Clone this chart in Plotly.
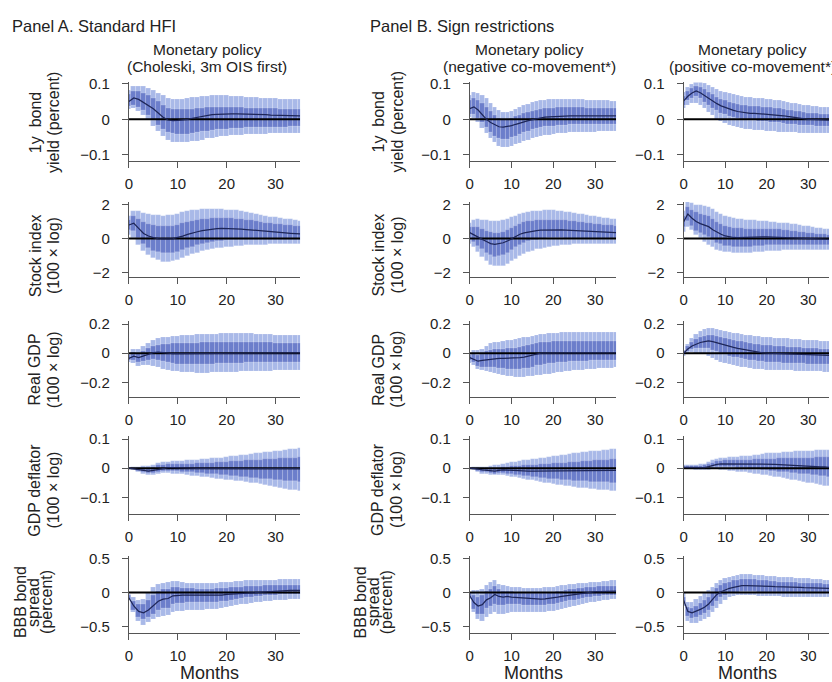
import plotly.graph_objects as go

# ---------------------------------------------------------------------------
# Impulse responses to a monetary policy shock, horizons 0..35 months.
# For each panel: median response, 90% band (lo90/hi90), 68% band (lo68/hi68)
# ---------------------------------------------------------------------------
months = list(range(36))

# --- 1y bond yield (percent) -------------------------------------------------
yield_chol_mid = [0.050,0.060,0.056,0.048,0.040,0.030,0.018,0.006,-0.002,-0.004,-0.003,-0.002,0.000,0.003,0.006,0.009,0.011,0.013,0.014,0.015,0.015,0.015,0.015,0.015,0.015,0.014,0.014,0.013,0.013,0.012,0.012,0.011,0.011,0.010,0.010,0.010]
yield_chol_hi90 = [0.082,0.092,0.093,0.092,0.088,0.082,0.074,0.066,0.059,0.056,0.056,0.057,0.059,0.061,0.063,0.064,0.065,0.066,0.066,0.066,0.066,0.065,0.065,0.064,0.063,0.062,0.061,0.060,0.059,0.058,0.058,0.057,0.056,0.056,0.055,0.055]
yield_chol_lo90 = [0.028,0.030,0.022,0.010,-0.004,-0.020,-0.035,-0.048,-0.058,-0.064,-0.066,-0.066,-0.065,-0.063,-0.061,-0.058,-0.055,-0.053,-0.051,-0.049,-0.047,-0.046,-0.045,-0.044,-0.043,-0.043,-0.042,-0.042,-0.042,-0.041,-0.041,-0.041,-0.040,-0.040,-0.040,-0.040]
yield_chol_hi68 = [0.070,0.078,0.078,0.074,0.068,0.060,0.050,0.040,0.032,0.028,0.027,0.027,0.028,0.029,0.031,0.032,0.033,0.034,0.034,0.034,0.034,0.034,0.033,0.033,0.032,0.032,0.031,0.031,0.030,0.030,0.030,0.029,0.029,0.029,0.028,0.028]
yield_chol_lo68 = [0.036,0.040,0.034,0.024,0.012,-0.002,-0.016,-0.028,-0.036,-0.041,-0.043,-0.043,-0.042,-0.040,-0.038,-0.035,-0.033,-0.031,-0.029,-0.028,-0.027,-0.026,-0.025,-0.025,-0.024,-0.024,-0.023,-0.023,-0.023,-0.022,-0.022,-0.022,-0.022,-0.021,-0.021,-0.021]

yield_neg_mid = [0.030,0.035,0.026,0.012,0.000,-0.009,-0.016,-0.021,-0.022,-0.021,-0.018,-0.014,-0.010,-0.007,-0.004,-0.001,0.002,0.004,0.006,0.007,0.008,0.009,0.009,0.010,0.010,0.010,0.010,0.010,0.010,0.010,0.010,0.010,0.010,0.010,0.010,0.010]
yield_neg_hi90 = [0.068,0.075,0.074,0.068,0.058,0.046,0.034,0.024,0.019,0.019,0.022,0.027,0.033,0.038,0.043,0.047,0.050,0.053,0.054,0.055,0.056,0.056,0.056,0.056,0.056,0.055,0.055,0.055,0.054,0.054,0.053,0.053,0.052,0.052,0.051,0.051]
yield_neg_lo90 = [0.005,0.002,-0.010,-0.025,-0.040,-0.054,-0.066,-0.075,-0.080,-0.080,-0.077,-0.072,-0.067,-0.062,-0.058,-0.054,-0.051,-0.048,-0.046,-0.044,-0.042,-0.041,-0.040,-0.039,-0.038,-0.038,-0.037,-0.037,-0.036,-0.036,-0.036,-0.035,-0.035,-0.035,-0.035,-0.035]
yield_neg_hi68 = [0.052,0.058,0.054,0.044,0.033,0.022,0.012,0.004,0.000,0.000,0.003,0.007,0.012,0.016,0.020,0.023,0.026,0.028,0.030,0.031,0.032,0.033,0.033,0.033,0.033,0.033,0.033,0.033,0.032,0.032,0.032,0.032,0.031,0.031,0.031,0.031]
yield_neg_lo68 = [0.013,0.014,0.004,-0.010,-0.024,-0.037,-0.047,-0.054,-0.057,-0.056,-0.052,-0.047,-0.042,-0.037,-0.033,-0.029,-0.026,-0.023,-0.021,-0.020,-0.019,-0.018,-0.017,-0.016,-0.015,-0.015,-0.014,-0.014,-0.014,-0.014,-0.014,-0.014,-0.013,-0.013,-0.013,-0.013]

yield_pos_mid = [0.052,0.065,0.074,0.080,0.075,0.067,0.059,0.051,0.044,0.038,0.033,0.029,0.025,0.022,0.020,0.018,0.017,0.017,0.016,0.016,0.015,0.015,0.014,0.012,0.010,0.008,0.006,0.004,0.002,0.001,0.000,0.000,-0.001,-0.001,-0.002,-0.002]
yield_pos_hi90 = [0.075,0.090,0.099,0.104,0.103,0.100,0.095,0.090,0.085,0.080,0.076,0.072,0.069,0.066,0.064,0.062,0.061,0.060,0.059,0.058,0.057,0.056,0.054,0.052,0.050,0.048,0.046,0.044,0.042,0.040,0.039,0.037,0.036,0.035,0.034,0.033]
yield_pos_lo90 = [0.032,0.038,0.044,0.046,0.040,0.030,0.020,0.010,0.001,-0.006,-0.012,-0.016,-0.020,-0.023,-0.026,-0.028,-0.029,-0.030,-0.031,-0.032,-0.033,-0.034,-0.035,-0.036,-0.036,-0.037,-0.038,-0.038,-0.039,-0.039,-0.040,-0.040,-0.040,-0.040,-0.040,-0.040]
yield_pos_hi68 = [0.064,0.078,0.087,0.092,0.089,0.083,0.076,0.069,0.062,0.057,0.052,0.048,0.045,0.042,0.040,0.038,0.037,0.037,0.036,0.035,0.034,0.033,0.032,0.030,0.028,0.026,0.024,0.022,0.021,0.019,0.018,0.017,0.016,0.015,0.014,0.013]
yield_pos_lo68 = [0.040,0.052,0.060,0.064,0.058,0.049,0.040,0.032,0.024,0.018,0.013,0.009,0.006,0.003,0.001,-0.001,-0.003,-0.004,-0.005,-0.006,-0.007,-0.008,-0.009,-0.010,-0.012,-0.013,-0.014,-0.015,-0.016,-0.017,-0.018,-0.018,-0.019,-0.019,-0.019,-0.020]

# --- Stock index (100 x log) -------------------------------------------------
stock_chol_mid = [0.80,0.90,0.60,0.30,0.15,0.05,0.00,-0.02,-0.02,0.00,0.05,0.14,0.24,0.33,0.40,0.46,0.51,0.55,0.58,0.60,0.60,0.59,0.58,0.56,0.53,0.50,0.47,0.44,0.42,0.40,0.37,0.35,0.33,0.31,0.29,0.27]
stock_chol_hi90 = [1.30,1.60,1.60,1.50,1.45,1.40,1.37,1.35,1.36,1.40,1.47,1.55,1.61,1.66,1.69,1.71,1.72,1.72,1.72,1.71,1.70,1.68,1.65,1.61,1.56,1.50,1.44,1.38,1.33,1.28,1.24,1.20,1.16,1.12,1.08,1.05]
stock_chol_lo90 = [0.20,0.00,-0.40,-0.72,-1.00,-1.18,-1.30,-1.38,-1.40,-1.36,-1.28,-1.17,-1.05,-0.94,-0.85,-0.77,-0.70,-0.64,-0.59,-0.54,-0.51,-0.48,-0.45,-0.43,-0.41,-0.40,-0.38,-0.37,-0.36,-0.35,-0.34,-0.33,-0.32,-0.31,-0.30,-0.30]
stock_chol_hi68 = [1.10,1.30,1.15,0.95,0.85,0.78,0.74,0.72,0.73,0.76,0.82,0.90,0.98,1.05,1.10,1.14,1.17,1.19,1.20,1.20,1.19,1.18,1.16,1.13,1.10,1.06,1.02,0.98,0.94,0.90,0.87,0.84,0.81,0.78,0.75,0.72]
stock_chol_lo68 = [0.50,0.45,0.05,-0.30,-0.55,-0.72,-0.82,-0.88,-0.89,-0.86,-0.80,-0.70,-0.59,-0.48,-0.39,-0.31,-0.25,-0.20,-0.16,-0.13,-0.11,-0.10,-0.09,-0.09,-0.09,-0.09,-0.09,-0.09,-0.09,-0.08,-0.08,-0.08,-0.08,-0.08,-0.08,-0.08]

stock_neg_mid = [0.35,0.20,0.05,-0.05,-0.18,-0.30,-0.35,-0.30,-0.25,-0.15,0.00,0.14,0.25,0.33,0.39,0.43,0.47,0.50,0.51,0.52,0.52,0.52,0.51,0.50,0.49,0.47,0.46,0.45,0.44,0.42,0.41,0.40,0.39,0.37,0.36,0.35]
stock_neg_hi90 = [0.90,1.10,1.15,1.10,1.07,1.05,1.04,1.05,1.08,1.15,1.25,1.35,1.43,1.50,1.55,1.60,1.62,1.64,1.65,1.65,1.65,1.63,1.61,1.58,1.55,1.51,1.47,1.43,1.39,1.35,1.31,1.27,1.23,1.20,1.17,1.15]
stock_neg_lo90 = [-0.30,-0.50,-0.80,-1.10,-1.35,-1.55,-1.65,-1.65,-1.60,-1.50,-1.35,-1.20,-1.05,-0.92,-0.80,-0.72,-0.65,-0.60,-0.55,-0.50,-0.46,-0.43,-0.41,-0.39,-0.37,-0.35,-0.34,-0.33,-0.32,-0.31,-0.30,-0.30,-0.30,-0.30,-0.30,-0.30]
stock_neg_hi68 = [0.65,0.70,0.65,0.55,0.45,0.35,0.30,0.32,0.38,0.48,0.62,0.76,0.87,0.95,1.01,1.05,1.08,1.10,1.11,1.11,1.11,1.10,1.08,1.06,1.04,1.01,0.98,0.96,0.93,0.90,0.87,0.85,0.82,0.80,0.78,0.76]
stock_neg_lo68 = [0.05,-0.20,-0.45,-0.65,-0.85,-1.00,-1.08,-1.05,-0.98,-0.85,-0.68,-0.50,-0.36,-0.25,-0.17,-0.11,-0.07,-0.03,-0.01,0.00,0.00,0.00,0.00,-0.01,-0.02,-0.03,-0.04,-0.05,-0.05,-0.06,-0.06,-0.06,-0.06,-0.06,-0.06,-0.06]

stock_pos_mid = [1.00,1.45,1.20,1.00,0.88,0.80,0.70,0.52,0.37,0.25,0.15,0.09,0.06,0.05,0.05,0.05,0.06,0.07,0.08,0.09,0.10,0.09,0.08,0.07,0.06,0.05,0.04,0.03,0.01,0.00,-0.01,-0.03,-0.04,-0.05,-0.05,-0.05]
stock_pos_hi90 = [1.60,2.15,2.10,2.00,1.95,1.93,1.88,1.72,1.56,1.42,1.32,1.26,1.21,1.17,1.13,1.10,1.08,1.06,1.04,1.02,1.00,0.98,0.96,0.94,0.92,0.90,0.87,0.83,0.79,0.75,0.71,0.67,0.64,0.61,0.58,0.55]
stock_pos_lo90 = [0.40,0.70,0.50,0.20,0.00,-0.20,-0.38,-0.53,-0.66,-0.75,-0.80,-0.83,-0.85,-0.86,-0.86,-0.86,-0.85,-0.83,-0.81,-0.78,-0.76,-0.74,-0.73,-0.72,-0.71,-0.70,-0.70,-0.70,-0.70,-0.70,-0.70,-0.70,-0.70,-0.70,-0.70,-0.70]
stock_pos_hi68 = [1.35,1.85,1.70,1.55,1.45,1.40,1.32,1.15,0.98,0.85,0.75,0.68,0.64,0.61,0.59,0.58,0.58,0.58,0.58,0.58,0.58,0.57,0.55,0.53,0.51,0.49,0.46,0.43,0.40,0.37,0.34,0.31,0.29,0.27,0.25,0.23]
stock_pos_lo68 = [0.65,1.05,0.75,0.45,0.30,0.20,0.08,-0.10,-0.25,-0.35,-0.42,-0.47,-0.50,-0.51,-0.51,-0.50,-0.48,-0.46,-0.44,-0.42,-0.40,-0.39,-0.38,-0.38,-0.38,-0.38,-0.38,-0.38,-0.38,-0.38,-0.38,-0.38,-0.38,-0.38,-0.38,-0.38]

# --- Real GDP (100 x log) ----------------------------------------------------
gdp_chol_mid = [-0.035,-0.020,-0.030,-0.020,-0.006,0.004,0.008,0.004,0.000,-0.002,-0.002,-0.002,-0.002,-0.001,0.000,0.000,0.001,0.001,0.002,0.002,0.003,0.003,0.003,0.003,0.003,0.003,0.003,0.002,0.002,0.002,0.002,0.002,0.002,0.002,0.002,0.002]
gdp_chol_hi90 = [0.000,0.030,0.030,0.050,0.070,0.088,0.100,0.108,0.113,0.117,0.120,0.122,0.124,0.126,0.128,0.130,0.131,0.132,0.133,0.134,0.135,0.135,0.135,0.135,0.135,0.134,0.133,0.132,0.130,0.128,0.126,0.125,0.124,0.123,0.122,0.121]
gdp_chol_lo90 = [-0.060,-0.070,-0.090,-0.085,-0.085,-0.090,-0.100,-0.110,-0.118,-0.124,-0.128,-0.131,-0.133,-0.134,-0.135,-0.135,-0.135,-0.134,-0.133,-0.132,-0.131,-0.130,-0.129,-0.128,-0.127,-0.126,-0.125,-0.124,-0.123,-0.122,-0.121,-0.121,-0.120,-0.120,-0.120,-0.120]
gdp_chol_hi68 = [-0.015,0.008,0.000,0.015,0.032,0.048,0.058,0.062,0.064,0.066,0.067,0.068,0.069,0.070,0.071,0.072,0.073,0.074,0.075,0.076,0.077,0.077,0.077,0.077,0.077,0.076,0.075,0.074,0.073,0.072,0.071,0.070,0.070,0.069,0.069,0.068]
gdp_chol_lo68 = [-0.050,-0.050,-0.062,-0.055,-0.048,-0.045,-0.048,-0.056,-0.064,-0.070,-0.073,-0.075,-0.076,-0.076,-0.076,-0.075,-0.074,-0.073,-0.072,-0.071,-0.070,-0.069,-0.068,-0.067,-0.066,-0.066,-0.065,-0.065,-0.065,-0.064,-0.064,-0.064,-0.064,-0.064,-0.064,-0.064]

gdp_neg_mid = [-0.030,-0.040,-0.055,-0.050,-0.045,-0.040,-0.036,-0.035,-0.035,-0.035,-0.035,-0.034,-0.031,-0.026,-0.019,-0.011,-0.004,0.000,0.001,0.002,0.003,0.003,0.003,0.003,0.003,0.003,0.003,0.003,0.003,0.003,0.003,0.003,0.003,0.003,0.003,0.003]
gdp_neg_hi90 = [0.000,0.020,0.020,0.030,0.050,0.065,0.073,0.078,0.082,0.086,0.090,0.095,0.101,0.107,0.113,0.118,0.123,0.127,0.131,0.135,0.138,0.140,0.142,0.143,0.144,0.145,0.145,0.145,0.145,0.145,0.145,0.145,0.145,0.145,0.145,0.145]
gdp_neg_lo90 = [-0.070,-0.080,-0.110,-0.120,-0.125,-0.130,-0.140,-0.148,-0.154,-0.158,-0.161,-0.163,-0.164,-0.163,-0.161,-0.158,-0.154,-0.150,-0.146,-0.142,-0.138,-0.134,-0.130,-0.126,-0.123,-0.120,-0.117,-0.115,-0.113,-0.111,-0.109,-0.107,-0.105,-0.103,-0.101,-0.100]
gdp_neg_hi68 = [-0.012,-0.005,-0.012,-0.005,0.010,0.020,0.025,0.028,0.030,0.032,0.034,0.037,0.042,0.048,0.055,0.062,0.068,0.072,0.075,0.078,0.080,0.081,0.082,0.083,0.083,0.084,0.084,0.084,0.084,0.084,0.084,0.084,0.084,0.084,0.084,0.084]
gdp_neg_lo68 = [-0.050,-0.065,-0.090,-0.095,-0.095,-0.095,-0.100,-0.103,-0.105,-0.108,-0.110,-0.111,-0.110,-0.107,-0.101,-0.094,-0.086,-0.080,-0.076,-0.072,-0.068,-0.065,-0.062,-0.060,-0.058,-0.056,-0.055,-0.054,-0.053,-0.052,-0.051,-0.050,-0.049,-0.048,-0.047,-0.046]

gdp_pos_mid = [0.000,0.030,0.050,0.062,0.074,0.080,0.085,0.080,0.071,0.062,0.054,0.046,0.040,0.034,0.028,0.022,0.015,0.009,0.005,0.002,0.000,-0.001,-0.002,-0.003,-0.004,-0.005,-0.006,-0.007,-0.008,-0.009,-0.010,-0.011,-0.012,-0.013,-0.014,-0.015]
gdp_pos_hi90 = [0.020,0.060,0.100,0.130,0.150,0.163,0.170,0.170,0.166,0.158,0.150,0.145,0.140,0.135,0.130,0.125,0.121,0.118,0.115,0.112,0.110,0.108,0.106,0.104,0.102,0.100,0.098,0.096,0.094,0.092,0.090,0.088,0.086,0.084,0.082,0.080]
gdp_pos_lo90 = [-0.020,0.000,0.005,0.000,-0.005,-0.010,-0.020,-0.035,-0.050,-0.060,-0.070,-0.078,-0.085,-0.090,-0.095,-0.100,-0.104,-0.108,-0.111,-0.113,-0.115,-0.116,-0.117,-0.118,-0.119,-0.120,-0.121,-0.122,-0.123,-0.124,-0.125,-0.126,-0.127,-0.128,-0.129,-0.130]
gdp_pos_hi68 = [0.010,0.045,0.075,0.095,0.110,0.120,0.126,0.125,0.118,0.110,0.102,0.096,0.090,0.085,0.080,0.074,0.068,0.063,0.059,0.056,0.054,0.052,0.050,0.048,0.046,0.044,0.042,0.040,0.038,0.036,0.034,0.032,0.031,0.030,0.029,0.028]
gdp_pos_lo68 = [-0.010,0.015,0.028,0.032,0.035,0.035,0.032,0.022,0.010,0.000,-0.010,-0.018,-0.025,-0.031,-0.036,-0.041,-0.046,-0.051,-0.055,-0.058,-0.060,-0.062,-0.064,-0.066,-0.067,-0.068,-0.069,-0.070,-0.071,-0.072,-0.073,-0.074,-0.075,-0.076,-0.077,-0.078]

# --- GDP deflator (100 x log) ------------------------------------------------
defl_chol_mid = [0.000,-0.002,-0.005,-0.008,-0.010,-0.008,-0.004,0.000,0.002,0.002,0.001,0.000,0.000,-0.001,-0.001,-0.001,-0.001,-0.001,-0.002,-0.002,-0.002,-0.002,-0.002,-0.002,-0.002,-0.002,-0.002,-0.002,-0.002,-0.002,-0.002,-0.002,-0.002,-0.002,-0.002,-0.002]
defl_chol_hi90 = [0.000,0.003,0.005,0.007,0.008,0.012,0.018,0.020,0.022,0.023,0.024,0.025,0.026,0.027,0.028,0.030,0.031,0.033,0.035,0.036,0.038,0.040,0.042,0.044,0.046,0.048,0.050,0.052,0.054,0.056,0.058,0.060,0.062,0.064,0.066,0.068]
defl_chol_lo90 = [-0.001,-0.008,-0.015,-0.020,-0.025,-0.024,-0.020,-0.018,-0.018,-0.019,-0.020,-0.022,-0.024,-0.026,-0.028,-0.030,-0.032,-0.034,-0.036,-0.038,-0.040,-0.042,-0.044,-0.046,-0.048,-0.050,-0.053,-0.056,-0.059,-0.062,-0.065,-0.068,-0.071,-0.074,-0.077,-0.080]
defl_chol_hi68 = [0.000,0.001,0.000,-0.001,-0.001,0.003,0.009,0.012,0.014,0.014,0.014,0.014,0.015,0.015,0.016,0.017,0.018,0.019,0.020,0.021,0.022,0.023,0.024,0.025,0.026,0.027,0.028,0.029,0.030,0.031,0.032,0.033,0.034,0.035,0.036,0.037]
defl_chol_lo68 = [-0.001,-0.005,-0.010,-0.015,-0.018,-0.017,-0.013,-0.010,-0.009,-0.010,-0.011,-0.012,-0.014,-0.015,-0.016,-0.018,-0.019,-0.021,-0.022,-0.024,-0.025,-0.027,-0.028,-0.030,-0.031,-0.033,-0.034,-0.036,-0.037,-0.039,-0.040,-0.042,-0.043,-0.045,-0.046,-0.048]

defl_neg_mid = [0.000,-0.001,-0.003,-0.006,-0.008,-0.010,-0.010,-0.008,-0.006,-0.007,-0.008,-0.009,-0.010,-0.010,-0.010,-0.010,-0.010,-0.010,-0.010,-0.010,-0.010,-0.010,-0.010,-0.010,-0.010,-0.009,-0.009,-0.009,-0.009,-0.009,-0.009,-0.008,-0.008,-0.008,-0.008,-0.008]
defl_neg_hi90 = [0.000,0.002,0.003,0.004,0.005,0.007,0.010,0.012,0.015,0.018,0.020,0.022,0.024,0.026,0.028,0.030,0.032,0.034,0.036,0.038,0.040,0.042,0.044,0.046,0.048,0.050,0.052,0.054,0.056,0.057,0.058,0.059,0.061,0.062,0.064,0.065]
defl_neg_lo90 = [-0.002,-0.008,-0.015,-0.019,-0.022,-0.025,-0.025,-0.025,-0.025,-0.027,-0.030,-0.032,-0.035,-0.037,-0.040,-0.042,-0.045,-0.047,-0.050,-0.052,-0.055,-0.057,-0.059,-0.061,-0.063,-0.065,-0.067,-0.068,-0.070,-0.072,-0.073,-0.075,-0.076,-0.077,-0.079,-0.080]
defl_neg_hi68 = [0.000,0.000,-0.001,-0.002,-0.003,-0.003,-0.001,0.001,0.003,0.005,0.006,0.007,0.008,0.009,0.010,0.011,0.012,0.013,0.014,0.015,0.016,0.017,0.018,0.019,0.020,0.021,0.022,0.023,0.024,0.025,0.026,0.027,0.028,0.029,0.030,0.031]
defl_neg_lo68 = [-0.001,-0.004,-0.009,-0.013,-0.015,-0.018,-0.019,-0.018,-0.017,-0.019,-0.021,-0.023,-0.025,-0.027,-0.029,-0.031,-0.032,-0.034,-0.035,-0.037,-0.038,-0.039,-0.040,-0.041,-0.042,-0.043,-0.044,-0.045,-0.046,-0.047,-0.048,-0.048,-0.049,-0.049,-0.050,-0.050]

defl_pos_mid = [0.003,0.003,0.003,0.003,0.002,0.002,0.005,0.010,0.013,0.015,0.015,0.015,0.015,0.015,0.015,0.015,0.015,0.015,0.014,0.014,0.014,0.013,0.013,0.012,0.011,0.010,0.010,0.009,0.008,0.007,0.006,0.006,0.005,0.004,0.004,0.003]
defl_pos_hi90 = [0.010,0.012,0.012,0.012,0.013,0.015,0.020,0.028,0.032,0.034,0.036,0.037,0.038,0.039,0.040,0.042,0.043,0.044,0.046,0.048,0.050,0.051,0.052,0.053,0.054,0.055,0.056,0.057,0.058,0.059,0.060,0.060,0.061,0.062,0.062,0.063]
defl_pos_lo90 = [-0.003,-0.004,-0.005,-0.006,-0.008,-0.008,-0.006,-0.005,-0.005,-0.006,-0.008,-0.009,-0.010,-0.012,-0.013,-0.015,-0.017,-0.019,-0.021,-0.023,-0.025,-0.027,-0.030,-0.032,-0.035,-0.037,-0.040,-0.042,-0.045,-0.047,-0.050,-0.052,-0.055,-0.057,-0.060,-0.062]
defl_pos_hi68 = [0.006,0.008,0.008,0.008,0.008,0.009,0.013,0.019,0.023,0.025,0.026,0.027,0.027,0.028,0.028,0.029,0.029,0.030,0.030,0.031,0.031,0.032,0.032,0.033,0.033,0.034,0.034,0.035,0.035,0.036,0.036,0.036,0.037,0.037,0.037,0.038]
defl_pos_lo68 = [0.000,-0.001,-0.001,-0.002,-0.003,-0.003,-0.001,0.002,0.004,0.005,0.004,0.003,0.002,0.001,0.000,-0.001,-0.002,-0.003,-0.005,-0.006,-0.007,-0.009,-0.010,-0.012,-0.013,-0.015,-0.016,-0.018,-0.019,-0.021,-0.022,-0.024,-0.025,-0.027,-0.028,-0.030]

# --- BBB bond spread (percent) -----------------------------------------------
bbb_chol_mid = [-0.08,-0.20,-0.28,-0.30,-0.26,-0.20,-0.13,-0.10,-0.09,-0.05,-0.04,-0.04,-0.04,-0.04,-0.045,-0.045,-0.05,-0.05,-0.045,-0.04,-0.03,-0.025,-0.015,-0.01,-0.005,0.000,0.005,0.010,0.015,0.020,0.020,0.025,0.025,0.030,0.030,0.030]
bbb_chol_hi90 = [-0.03,-0.08,-0.12,-0.10,-0.02,0.08,0.12,0.14,0.15,0.16,0.16,0.15,0.14,0.135,0.13,0.13,0.13,0.135,0.14,0.145,0.15,0.155,0.16,0.165,0.17,0.17,0.175,0.175,0.18,0.18,0.18,0.185,0.185,0.19,0.19,0.19]
bbb_chol_lo90 = [-0.12,-0.30,-0.42,-0.48,-0.44,-0.40,-0.36,-0.35,-0.34,-0.30,-0.28,-0.275,-0.27,-0.265,-0.26,-0.26,-0.255,-0.25,-0.245,-0.235,-0.22,-0.21,-0.195,-0.18,-0.17,-0.16,-0.15,-0.14,-0.13,-0.125,-0.12,-0.115,-0.11,-0.105,-0.10,-0.10]
bbb_chol_hi68 = [-0.05,-0.13,-0.18,-0.18,-0.12,-0.04,0.02,0.04,0.05,0.07,0.07,0.065,0.06,0.055,0.05,0.05,0.05,0.05,0.055,0.06,0.065,0.07,0.075,0.08,0.085,0.09,0.09,0.095,0.10,0.10,0.105,0.105,0.11,0.11,0.11,0.11]
bbb_chol_lo68 = [-0.10,-0.26,-0.36,-0.40,-0.37,-0.33,-0.27,-0.24,-0.23,-0.18,-0.16,-0.155,-0.15,-0.145,-0.145,-0.145,-0.15,-0.15,-0.145,-0.135,-0.125,-0.115,-0.10,-0.09,-0.08,-0.07,-0.06,-0.055,-0.05,-0.045,-0.04,-0.035,-0.035,-0.03,-0.03,-0.03]

bbb_neg_mid = [-0.05,-0.15,-0.20,-0.18,-0.11,-0.08,-0.03,-0.06,-0.07,-0.06,-0.07,-0.075,-0.08,-0.09,-0.095,-0.10,-0.10,-0.10,-0.095,-0.09,-0.08,-0.07,-0.06,-0.05,-0.04,-0.03,-0.02,-0.01,0.00,0.005,0.01,0.01,0.015,0.015,0.02,0.02]
bbb_neg_hi90 = [0.00,0.03,0.03,0.05,0.10,0.15,0.18,0.12,0.10,0.09,0.08,0.075,0.07,0.065,0.06,0.06,0.06,0.065,0.07,0.075,0.08,0.09,0.10,0.11,0.115,0.12,0.13,0.135,0.14,0.145,0.15,0.155,0.16,0.165,0.17,0.17]
bbb_neg_lo90 = [-0.10,-0.30,-0.40,-0.42,-0.36,-0.33,-0.30,-0.33,-0.33,-0.31,-0.30,-0.30,-0.30,-0.30,-0.30,-0.30,-0.30,-0.295,-0.29,-0.285,-0.28,-0.265,-0.25,-0.235,-0.22,-0.20,-0.185,-0.17,-0.16,-0.15,-0.14,-0.13,-0.12,-0.11,-0.105,-0.10]
bbb_neg_hi68 = [-0.02,-0.05,-0.07,-0.05,0.02,0.05,0.09,0.04,0.02,0.02,0.01,0.00,-0.01,-0.015,-0.02,-0.02,-0.02,-0.015,-0.01,-0.005,0.00,0.01,0.02,0.03,0.04,0.05,0.06,0.065,0.07,0.075,0.08,0.085,0.09,0.09,0.095,0.095]
bbb_neg_lo68 = [-0.08,-0.25,-0.32,-0.32,-0.24,-0.21,-0.17,-0.19,-0.19,-0.18,-0.18,-0.18,-0.18,-0.185,-0.19,-0.19,-0.19,-0.19,-0.185,-0.18,-0.17,-0.16,-0.145,-0.13,-0.12,-0.11,-0.10,-0.09,-0.08,-0.07,-0.06,-0.055,-0.05,-0.045,-0.04,-0.04]

bbb_pos_mid = [-0.12,-0.28,-0.30,-0.28,-0.25,-0.22,-0.17,-0.10,-0.03,0.01,0.04,0.06,0.075,0.09,0.10,0.10,0.10,0.10,0.095,0.09,0.09,0.09,0.085,0.085,0.08,0.08,0.08,0.075,0.075,0.07,0.07,0.07,0.065,0.065,0.06,0.06]
bbb_pos_hi90 = [-0.02,-0.15,-0.15,-0.10,-0.06,-0.02,0.03,0.08,0.13,0.17,0.20,0.22,0.24,0.25,0.26,0.26,0.26,0.255,0.25,0.245,0.24,0.235,0.23,0.225,0.22,0.22,0.215,0.21,0.205,0.20,0.20,0.195,0.19,0.185,0.18,0.18]
bbb_pos_lo90 = [-0.20,-0.42,-0.45,-0.45,-0.42,-0.40,-0.36,-0.30,-0.23,-0.17,-0.12,-0.08,-0.06,-0.05,-0.04,-0.04,-0.05,-0.05,-0.055,-0.06,-0.06,-0.06,-0.065,-0.065,-0.07,-0.07,-0.07,-0.07,-0.07,-0.07,-0.07,-0.07,-0.07,-0.07,-0.07,-0.07]
bbb_pos_hi68 = [-0.07,-0.22,-0.23,-0.20,-0.16,-0.12,-0.07,0.00,0.06,0.10,0.13,0.15,0.17,0.18,0.19,0.19,0.19,0.185,0.18,0.175,0.17,0.165,0.16,0.155,0.15,0.15,0.15,0.145,0.14,0.14,0.135,0.135,0.13,0.13,0.125,0.125]
bbb_pos_lo68 = [-0.16,-0.35,-0.38,-0.37,-0.34,-0.31,-0.27,-0.20,-0.13,-0.08,-0.04,-0.02,-0.01,0.00,0.01,0.01,0.01,0.01,0.005,0.00,0.00,0.00,0.00,0.00,0.00,0.00,0.00,0.00,0.00,0.00,0.00,0.00,0.00,0.00,0.00,0.00]

# ---------------------------------------------------------------------------
# Panel metadata
# ---------------------------------------------------------------------------
row_keys = ["yield", "stock", "gdp", "defl", "bbb"]
col_keys = ["chol", "neg", "pos"]

row_labels = [
    ["1y  bond", "yield (percent)"],
    ["Stock index", "(100 × log)"],
    ["Real GDP", "(100 × log)"],
    ["GDP deflator", "(100 × log)"],
    ["BBB bond", "spread", "(percent)"],
]
col_titles = [
    ["Monetary policy", "(Choleski, 3m OIS first)"],
    ["Monetary policy", "(negative co-movement*)"],
    ["Monetary policy", "(positive co-movement*)"],
]
y_ticks = [[-0.1, 0, 0.1], [-2, 0, 2], [-0.2, 0, 0.2], [-0.1, 0, 0.1], [-0.5, 0, 0.5]]
y_ranges = [[-0.118, 0.104], [-2.3, 2.15], [-0.303, 0.22], [-0.159, 0.11], [-0.6, 0.53]]
x_ticks = [0, 10, 20, 30]

# Layout geometry in pixels
W, H = 832, 682
col_px = [(125.5, 297.5), (468, 615), (683, 829)]
row_px = [(76.5, 156.5), (198, 274.5), (319, 396), (435.5, 515), (557.5, 635.5)]

OUTER = "#a9b9e8"
INNER = "#6c7ecb"
STRIPE = "rgba(255,255,255,0.28)"
MEDIAN = "#1e2658"
AXIS = "#555555"
TEXT = "#222222"
FONT = "Liberation Sans, Arial, Helvetica, sans-serif"

g = globals()


def px_x(x):
    return x / W


def px_y(y):
    return 1 - y / H


fig = go.Figure()
layout = {}

for r, rk in enumerate(row_keys):
    for c, ck in enumerate(col_keys):
        k = r * 3 + c + 1
        sfx = "" if k == 1 else str(k)
        xa, ya = "x" + sfx, "y" + sfx
        base = f"{rk}_{ck}_"
        mid = g[base + "mid"]
        lo90, hi90 = g[base + "lo90"], g[base + "hi90"]
        lo68, hi68 = g[base + "lo68"], g[base + "hi68"]
        for arr in (mid, lo90, hi90, lo68, hi68):
            assert len(arr) == len(months), base

        # outer (90%) and inner (68%) bands drawn as one bar per month
        fig.add_trace(go.Bar(
            x=months, y=[h - l for h, l in zip(hi90, lo90)], base=lo90,
            width=1.0, marker=dict(color=OUTER, line=dict(width=0.6, color=STRIPE)),
            xaxis=xa, yaxis=ya, showlegend=False, hoverinfo="skip"))
        fig.add_trace(go.Bar(
            x=months, y=[h - l for h, l in zip(hi68, lo68)], base=lo68,
            width=1.0, marker=dict(color=INNER, line=dict(width=0.6, color=STRIPE)),
            xaxis=xa, yaxis=ya, showlegend=False, hoverinfo="skip"))
        # zero reference line
        fig.add_trace(go.Scatter(
            x=[months[0], months[-1]], y=[0, 0], mode="lines",
            line=dict(color="black", width=2), xaxis=xa, yaxis=ya,
            showlegend=False, hoverinfo="skip"))
        # median response
        fig.add_trace(go.Scatter(
            x=months, y=mid, mode="lines",
            line=dict(color=MEDIAN, width=1.25), xaxis=xa, yaxis=ya,
            showlegend=False))

        x0, x1 = col_px[c]
        t, b = row_px[r]
        layout["xaxis" + sfx] = dict(
            domain=[px_x(x0), px_x(x1)], range=[0, 35], anchor=ya,
            showline=True, linecolor=AXIS, linewidth=1, mirror=False,
            ticks="outside", ticklen=6, tickcolor=AXIS, tickwidth=1,
            tickvals=x_ticks, showgrid=False, zeroline=False,
            tickfont=dict(size=15, color=TEXT, family=FONT),
            ticklabelstandoff=3)
        layout["yaxis" + sfx] = dict(
            domain=[px_y(b), px_y(t)], range=y_ranges[r], anchor=xa,
            showline=True, linecolor=AXIS, linewidth=1,
            ticks="outside", ticklen=6, tickcolor=AXIS, tickwidth=1,
            tickvals=y_ticks[r], showgrid=False, zeroline=False,
            tickfont=dict(size=15, color=TEXT, family=FONT),
            ticklabelstandoff=9)

annotations = []


def add_text(text, x, y, size, xanchor="center", angle=0):
    annotations.append(dict(
        text=text, x=px_x(x), y=px_y(y), xref="paper", yref="paper",
        xanchor=xanchor, yanchor="middle", showarrow=False, textangle=angle,
        font=dict(size=size, color=TEXT, family=FONT)))


# Panel headings
add_text("Panel A. Standard HFI", 6, 19, 16.5, xanchor="left")
add_text("Panel B. Sign restrictions", 366, 19, 16.5, xanchor="left")

# Column titles
title_cx = [204, 528, 752]
for c, lines in enumerate(col_titles):
    add_text(lines[0], title_cx[c], 43.5, 15.5)
    add_text(lines[1], title_cx[c], 60, 15.5)

# Row (y-axis) labels for the first two columns
label_cy = [117, 252, 368, 490, 604]
label_x2 = [[31, 50], [376, 395]]
label_x3 = [[16, 29, 42], [358, 371, 384]]
for r, lines in enumerate(row_labels):
    for c in range(2):
        xs = label_x2[c] if len(lines) == 2 else label_x3[c]
        for line, lx in zip(lines, xs):
            add_text(line, lx, label_cy[r], 16, angle=-90)

# x-axis titles
for cx in [206, 532, 747]:
    add_text("Months", cx, 676, 18)

layout.update(
    width=W, height=H, margin=dict(l=0, r=0, t=0, b=0),
    paper_bgcolor="white", plot_bgcolor="white",
    barmode="overlay", bargap=0, showlegend=False,
    annotations=annotations,
    font=dict(family=FONT, color=TEXT),
)
fig.update_layout(**layout)

# page body without default margin so the figure fills the window exactly
fig.write_html("out.html", post_script="document.body.style.margin='0';")
